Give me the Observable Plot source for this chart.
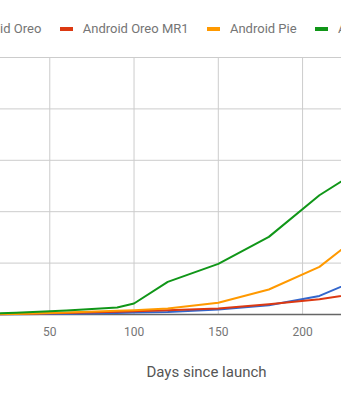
<!DOCTYPE html>
<html>
<head>
<meta charset="utf-8">
<script src="https://cdn.jsdelivr.net/npm/d3@7"></script>
<script src="https://cdn.jsdelivr.net/npm/@observablehq/plot@0.6"></script>
<style>
  html, body { margin: 0; padding: 0; background: #fff; }
  body { width: 341px; height: 400px; overflow: hidden; position: relative; font-family: Roboto, sans-serif; }
  #plotwrap { position: absolute; left: -95px; top: 0; width: 562px; }
  #plotwrap svg { max-width: none !important; width: 562px; height: 394px; }
  #legend { position: absolute; left: -57.6px; top: 22.3px; display: flex; align-items: center; white-space: nowrap; font-size: 13px; line-height: 13px; color: #757575; }
  #legend .item { display: flex; align-items: center; margin-right: 18.4px; }
  #legend .sw { width: 13px; height: 4px; margin-right: 10px; }
  g[aria-label="x-axis label"] text { font-size: 15px; fill: #555; }
</style>
</head>
<body>
<div id="legend"></div>
<div id="plotwrap"></div>
<script>
const seriesNames = ["Android Oreo", "Android Oreo MR1", "Android Pie", "Android 10"];
const seriesColors = ["#3366cc", "#dc3912", "#ff9900", "#109618"];
const days = [0, 30, 60, 90, 100, 120, 150, 180, 210, 240];
const oreo    = [0, 0.02, 0.08, 0.15, 0.19, 0.25, 0.49, 0.90, 1.81, 3.9];
const oreoMR1 = [0, 0.05, 0.15, 0.27, 0.32, 0.42, 0.58, 1.00, 1.49, 2.2];
const pie     = [0, 0.06, 0.20, 0.37, 0.42, 0.58, 1.15, 2.43, 4.63, 8.5];
const android10 = [0, 0.17, 0.38, 0.68, 1.07, 3.17, 4.92, 7.55, 11.6, 14.7];
const xTicks = [0, 50, 100, 150, 200, 250];
const yTicks = [0, 5, 10, 15, 20, 25];

const valuesBySeries = [oreo, oreoMR1, pie, android10];
const data = [];
seriesNames.forEach((name, i) => {
  days.forEach((d, j) => data.push({series: name, day: d, value: valuesBySeries[i][j]}));
});

// legend
const legend = document.getElementById("legend");
seriesNames.forEach((name, i) => {
  const item = document.createElement("div");
  item.className = "item";
  const sw = document.createElement("span");
  sw.className = "sw";
  sw.style.background = seriesColors[i];
  const t = document.createElement("span");
  t.textContent = name;
  item.appendChild(sw);
  item.appendChild(t);
  legend.appendChild(item);
});

const chart = Plot.plot({
  width: 562,
  height: 394,
  marginLeft: 60,
  marginRight: 20,
  marginTop: 57,
  marginBottom: 80,
  style: {fontFamily: "Roboto", fontSize: "12px", color: "#757575", background: "transparent", overflow: "visible"},
  x: {domain: [0, 286]},
  y: {domain: [0, 25]},
  color: {domain: seriesNames, range: seriesColors},
  marks: [
    Plot.gridX(xTicks, {stroke: "#cccccc", strokeOpacity: 1, strokeWidth: 1}),
    Plot.gridY(yTicks, {stroke: "#cccccc", strokeOpacity: 1, strokeWidth: 1}),
    Plot.axisY(yTicks, {tickSize: 0, tickPadding: 8, tickFormat: d => d + "%", label: null}),
    Plot.axisX(xTicks, {tickSize: 0, tickPadding: 13, label: "Days since launch", labelAnchor: "center", labelArrow: "none", labelOffset: 62}),
    Plot.ruleY([0], {stroke: "#666666", strokeWidth: 1.5}),
    Plot.line(data, {x: "day", y: "value", z: "series", stroke: "series", strokeWidth: 2, strokeLinejoin: "round"})
  ]
});
document.getElementById("plotwrap").appendChild(chart);
</script>
</body>
</html>
